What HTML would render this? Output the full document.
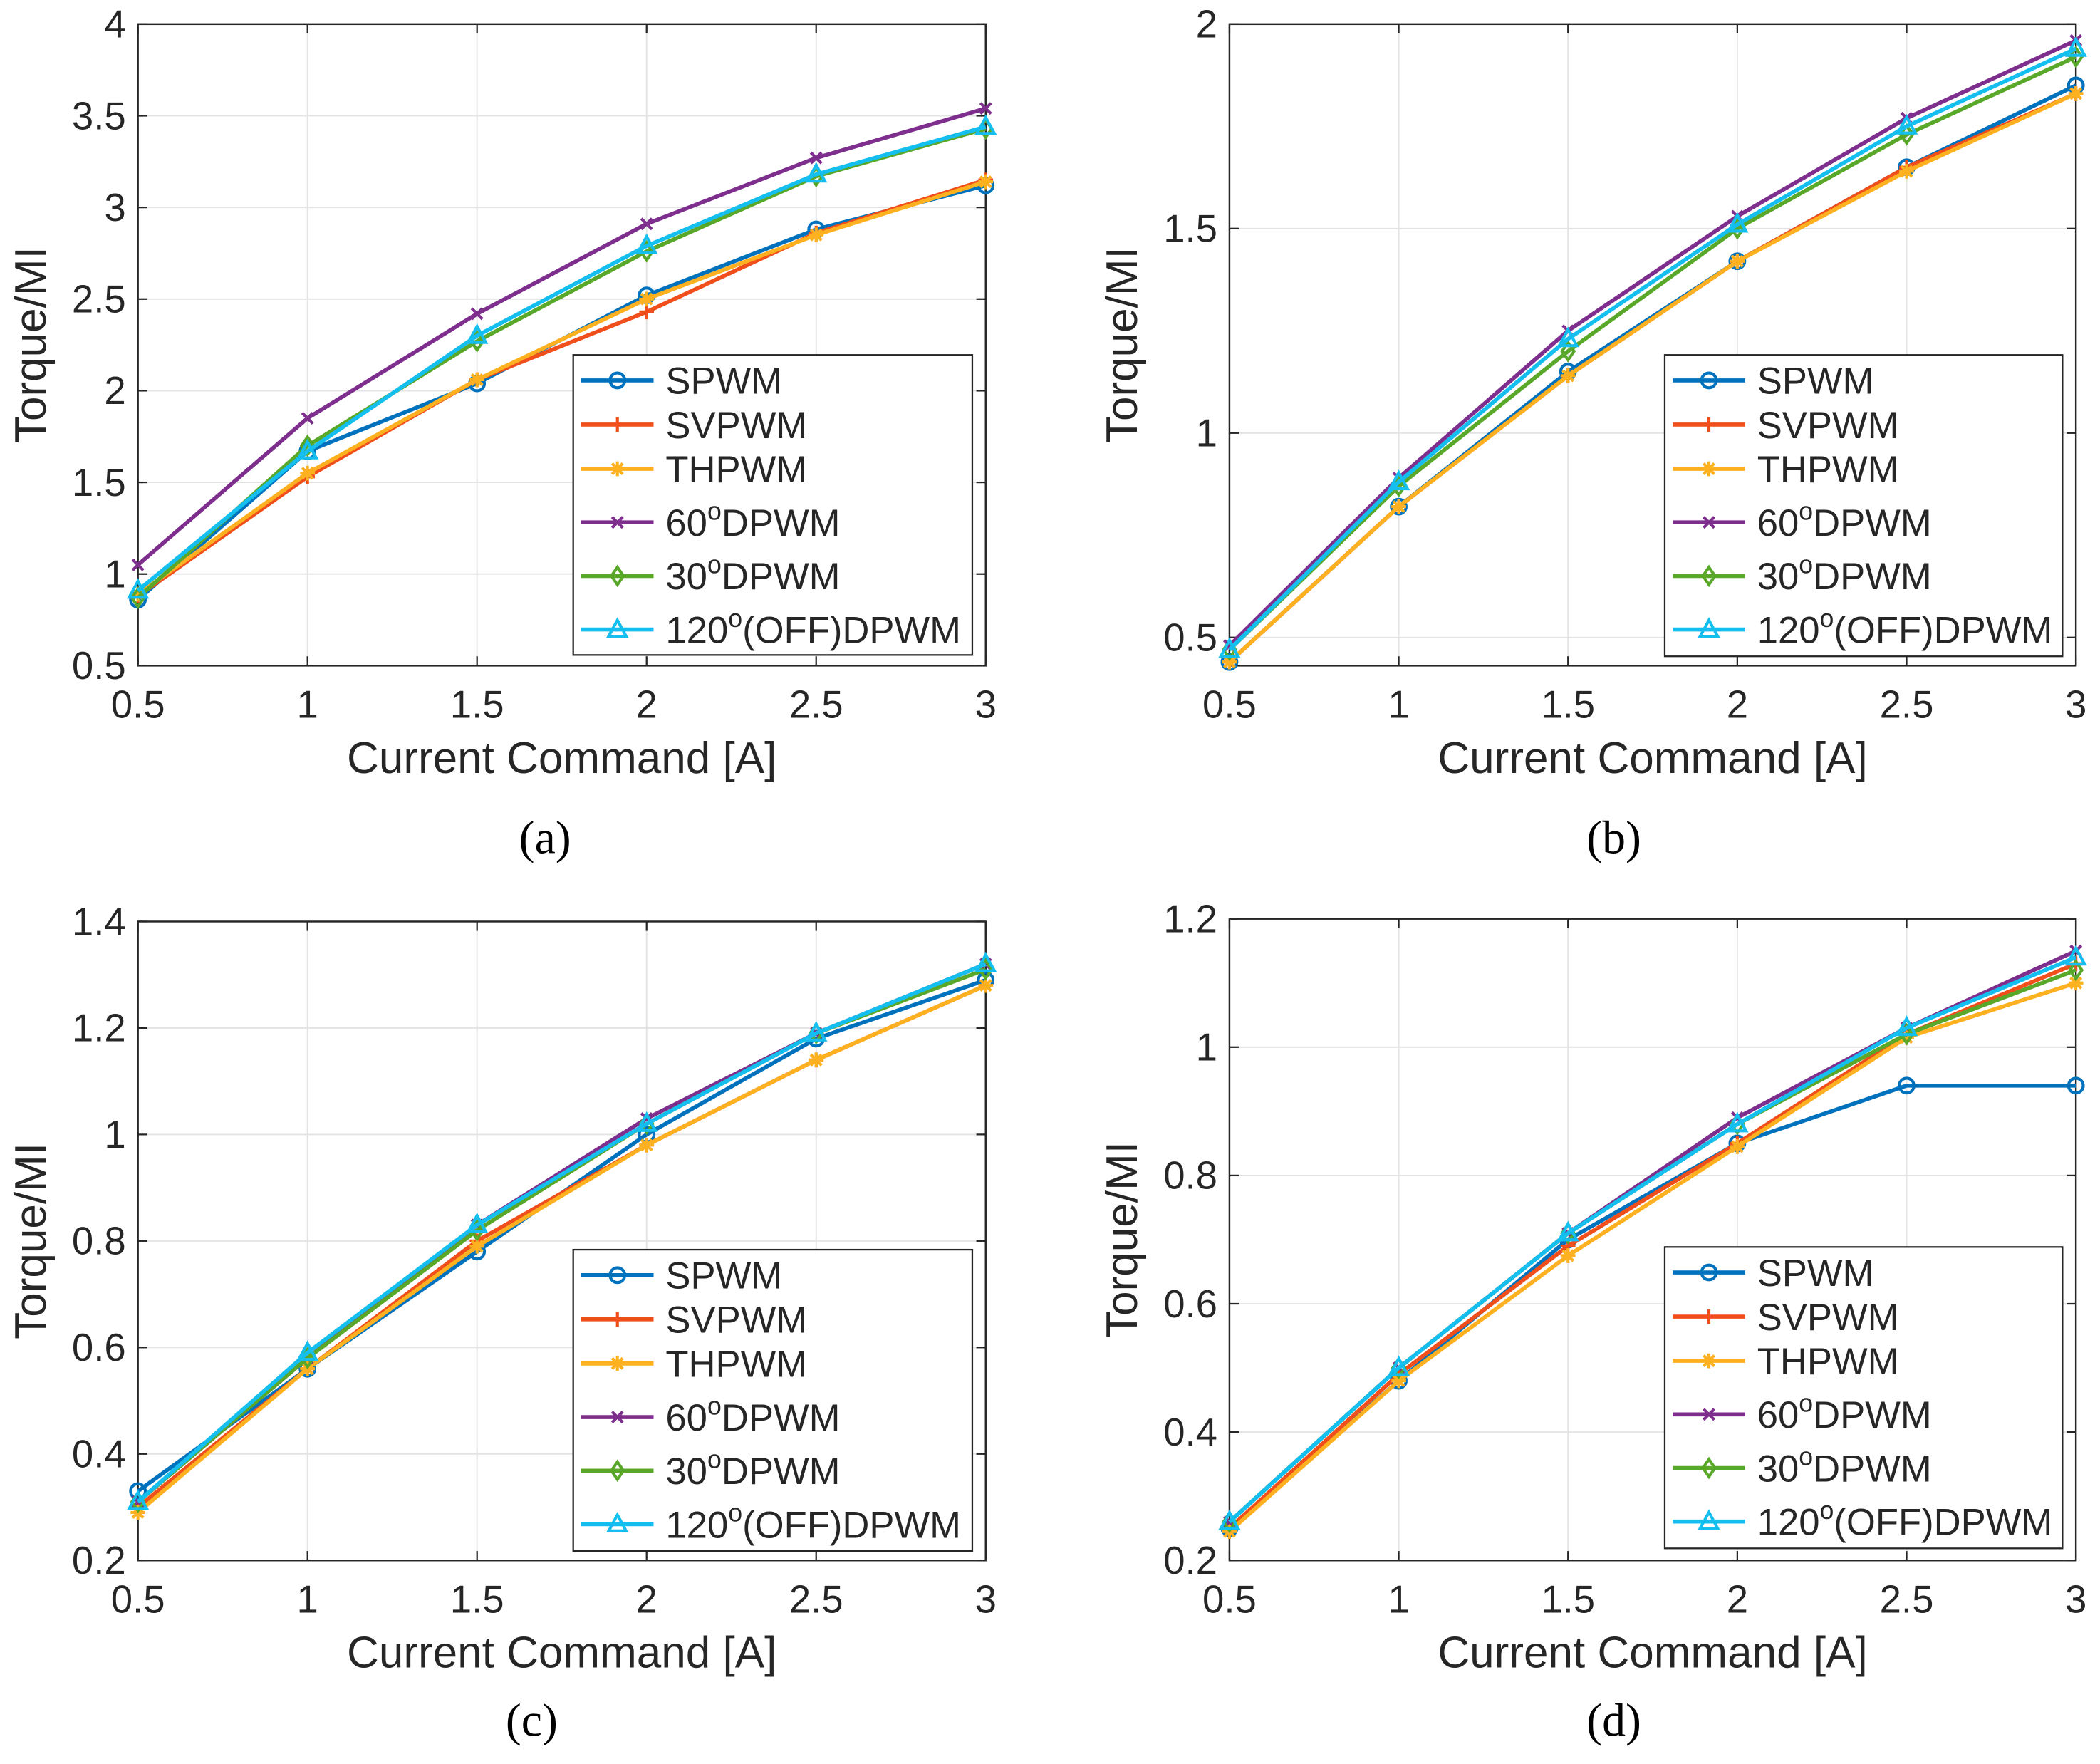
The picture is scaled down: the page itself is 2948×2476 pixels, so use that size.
<!DOCTYPE html>
<html><head><meta charset="utf-8"><style>
html,body{margin:0;padding:0;background:#fff}
svg{display:block}
text{font-family:"Liberation Sans",Arial,sans-serif;fill:#262626}
.cap{font-family:"Liberation Serif",serif;fill:#000}
</style></head><body>
<svg id="fig" width="2948" height="2476" viewBox="0 0 1568 1317" preserveAspectRatio="none" xmlns="http://www.w3.org/2000/svg"></svg>
<script>
const xValues=[0.5,1,1.5,2,2.5,3];
const xTickLabels=["0.5","1","1.5","2","2.5","3"];
const seriesNames=["SPWM","SVPWM","THPWM","60°DPWM","30°DPWM","120°(OFF)DPWM"];
const aSPWM=[0.86,1.67,2.04,2.52,2.88,3.12];
const aSVPWM=[0.88,1.53,2.06,2.43,2.86,3.15];
const aTHPWM=[0.89,1.55,2.06,2.50,2.85,3.14];
const aD60=[1.05,1.85,2.42,2.91,3.27,3.54];
const aD30=[0.87,1.70,2.27,2.76,3.17,3.43];
const aD120=[0.91,1.67,2.30,2.79,3.18,3.44];
const bSPWM=[0.44,0.82,1.15,1.42,1.65,1.85];
const bSVPWM=[0.44,0.82,1.14,1.42,1.65,1.83];
const bTHPWM=[0.44,0.82,1.14,1.42,1.64,1.83];
const bD60=[0.48,0.89,1.25,1.53,1.77,1.96];
const bD30=[0.47,0.87,1.20,1.50,1.73,1.92];
const bD120=[0.47,0.88,1.23,1.51,1.75,1.94];
const cSPWM=[0.33,0.56,0.78,1.00,1.18,1.29];
const cSVPWM=[0.30,0.56,0.80,0.98,1.14,1.28];
const cTHPWM=[0.29,0.56,0.79,0.98,1.14,1.28];
const cD60=[0.31,0.58,0.83,1.03,1.19,1.32];
const cD30=[0.31,0.58,0.82,1.02,1.19,1.31];
const cD120=[0.31,0.59,0.83,1.02,1.19,1.32];
const dSPWM=[0.25,0.48,0.70,0.85,0.94,0.94];
const dSVPWM=[0.25,0.49,0.69,0.85,1.02,1.13];
const dTHPWM=[0.245,0.48,0.675,0.845,1.015,1.10];
const dD60=[0.26,0.50,0.71,0.89,1.03,1.15];
const dD30=[0.26,0.50,0.71,0.88,1.02,1.12];
const dD120=[0.26,0.50,0.71,0.88,1.03,1.14];
const aYTicks=[0.5,1,1.5,2,2.5,3,3.5,4];
const aYTickLabels=["0.5","1","1.5","2","2.5","3","3.5","4"];
const bYTicks=[0.5,1,1.5,2];
const bYTickLabels=["0.5","1","1.5","2"];
const cYTicks=[0.2,0.4,0.6,0.8,1,1.2,1.4];
const cYTickLabels=["0.2","0.4","0.6","0.8","1","1.2","1.4"];
const dYTicks=[0.2,0.4,0.6,0.8,1,1.2];
const dYTickLabels=["0.2","0.4","0.6","0.8","1","1.2"];

const colors=["#0072BD","#F04E1A","#FDB020","#7E2F8E","#59A82A","#14BEEE"];
const markers=["o","+","*","x","d","t"];
const NS="http://www.w3.org/2000/svg";
const fig=document.getElementById('fig');
function mk(tag,attrs,parent){const e=document.createElementNS(NS,tag);for(const k in attrs)e.setAttribute(k,attrs[k]);(parent||fig).appendChild(e);return e;}

const panels=[
 {id:"a",L:103,R:736,T:18,B:497,ymin:0.5,ymax:4,yt:aYTicks,ytl:aYTickLabels,data:[aSPWM,aSVPWM,aTHPWM,aD60,aD30,aD120],leg:[428,265,726,489],cx:407,cy:637},
 {id:"b",L:918,R:1550,T:18,B:497,ymin:0.431,ymax:2,yt:bYTicks,ytl:bYTickLabels,data:[bSPWM,bSVPWM,bTHPWM,bD60,bD30,bD120],leg:[1243,265,1540,490],cx:1205,cy:637},
 {id:"c",L:103,R:736,T:688,B:1165,ymin:0.2,ymax:1.4,yt:cYTicks,ytl:cYTickLabels,data:[cSPWM,cSVPWM,cTHPWM,cD60,cD30,cD120],leg:[428,933,726,1158],cx:397,cy:1296},
 {id:"d",L:918,R:1550,T:686,B:1165,ymin:0.2,ymax:1.2,yt:dYTicks,ytl:dYTickLabels,data:[dSPWM,dSVPWM,dTHPWM,dD60,dD30,dD120],leg:[1243,931,1540,1156],cx:1205,cy:1296}
];

function marker(g,type,x,y,c){
  const s=5.5;
  if(type==="o"){const m=mk('circle',{cx:x,cy:y,r:s,fill:'none',stroke:c,'stroke-width':2.2},g);}
  else if(type==="+"){const m=mk('path',{d:`M${x-s} ${y}H${x+s}M${x} ${y-s}V${y+s}`,stroke:c,'stroke-width':2.2,fill:'none'},g);}
  else if(type==="x"){const m=mk('path',{d:`M${x-4} ${y-4}L${x+4} ${y+4}M${x-4} ${y+4}L${x+4} ${y-4}`,stroke:c,'stroke-width':2.2,fill:'none'},g);}
  else if(type==="*"){const m=mk('path',{d:`M${x-s} ${y}H${x+s}M${x} ${y-s}V${y+s}M${x-4} ${y-4}L${x+4} ${y+4}M${x-4} ${y+4}L${x+4} ${y-4}`,stroke:c,'stroke-width':2.2,fill:'none'},g);}
  else if(type==="d"){const m=mk('path',{d:`M${x} ${y-6.5}L${x+4.5} ${y}L${x} ${y+6.5}L${x-4.5} ${y}Z`,stroke:c,'stroke-width':2.2,fill:'none'},g);}
  else {const m=mk('path',{d:`M${x} ${y-7}L${x+6.5} ${y+5}L${x-6.5} ${y+5}Z`,stroke:c,'stroke-width':2.2,fill:'none'},g);}
}

panels.forEach(p=>{
  const g=mk('g',{});
  
  
  const xs=v=>p.L+(v-0.5)/(3-0.5)*(p.R-p.L);
  const ys=v=>p.B-(v-p.ymin)/(p.ymax-p.ymin)*(p.B-p.T);
  mk('rect',{x:p.L,y:p.T,width:p.R-p.L,height:p.B-p.T,fill:'#fff'},g);
  xValues.forEach((v,i)=>{
    const x=xs(v);
    const gl=mk('line',{x1:x,y1:p.T,x2:x,y2:p.B,stroke:'#e3e3e3','stroke-width':1},g);
    
    mk('line',{x1:x,y1:p.B,x2:x,y2:p.B-7,stroke:'#262626','stroke-width':1.2},g);
    mk('line',{x1:x,y1:p.T,x2:x,y2:p.T+7,stroke:'#262626','stroke-width':1.2},g);
    const t=mk('text',{x:x,y:p.B+39,'font-size':29,'text-anchor':'middle'},g);
    t.textContent=xTickLabels[i];
    
  });
  p.yt.forEach((v,i)=>{
    const y=ys(v);
    const gl=mk('line',{x1:p.L,y1:y,x2:p.R,y2:y,stroke:'#e3e3e3','stroke-width':1},g);
    
    mk('line',{x1:p.L,y1:y,x2:p.L+7,y2:y,stroke:'#262626','stroke-width':1.2},g);
    mk('line',{x1:p.R,y1:y,x2:p.R-7,y2:y,stroke:'#262626','stroke-width':1.2},g);
    const t=mk('text',{x:p.L-9,y:y+10,'font-size':29,'text-anchor':'end'},g);
    t.textContent=p.ytl[i];
    
  });
  mk('rect',{x:p.L,y:p.T,width:p.R-p.L,height:p.B-p.T,fill:'none',stroke:'#262626','stroke-width':1.3},g);
  p.data.forEach((arr,si)=>{
    const pts=arr.map((v,i)=>xs(xValues[i])+','+ys(v)).join(' ');
    const pl=mk('polyline',{points:pts,fill:'none',stroke:colors[si],'stroke-width':3,'stroke-linejoin':'round'},g);
    
    
    arr.forEach((v,i)=>marker(g,markers[si],xs(xValues[i]),ys(v),colors[si]));
  });
  const [lx1,ly1,lx2,ly2]=p.leg;
  const lg=mk('g',{},g);
  
  mk('rect',{x:lx1,y:ly1,width:lx2-lx1,height:ly2-ly1,fill:'#fff',stroke:'#262626','stroke-width':1.2},lg);
  const rows=[19,52,85,125,165,205];
  seriesNames.forEach((n,si)=>{
    const y=ly1+rows[si];
    const e=mk('g',{},lg);
    
    mk('line',{x1:lx1+6,y1:y,x2:lx1+60,y2:y,stroke:colors[si],'stroke-width':3},e);
    marker(e,markers[si],lx1+33,y,colors[si]);
    const t=mk('text',{x:lx1+69,y:y+10,'font-size':28},e);
    const m=n.match(/^(\d+)°(.*)$/);
    if(m){
      t.appendChild(document.createTextNode(m[1]));
      const s=mk('tspan',{'font-size':19,dy:-12},t);s.textContent='o';
      const r=mk('tspan',{dy:12},t);r.textContent=m[2];
    } else t.textContent=n;
  });
  const cx=(p.L+p.R)/2;
  const xl=mk('text',{x:cx,y:p.B+80,'font-size':33,'text-anchor':'middle'},g);
  xl.textContent='Current Command [A]';
  
  const yx=p.L-69, ymid=(p.T+p.B)/2;
  const yl=mk('text',{x:yx,y:ymid,'font-size':33,'text-anchor':'middle',transform:`rotate(-90 ${yx} ${ymid})`},g);
  yl.textContent='Torque/MI';
  
  const cp=mk('text',{x:p.cx,y:p.cy,'font-size':35,'text-anchor':'middle',class:'cap'},g);
  cp.textContent='('+p.id+')';
  
});
</script>
</body></html>
